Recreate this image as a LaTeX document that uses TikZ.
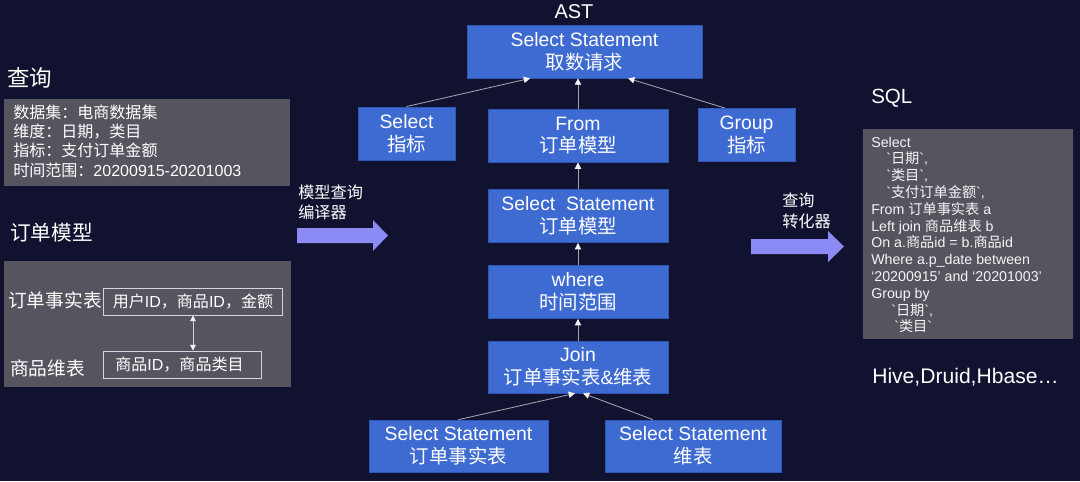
\documentclass[tikz,border=0pt]{standalone}
\usepackage{fontspec}
\setmainfont{Liberation Sans}[Ligatures=TeXOff]
\newfontfamily\lafont{Liberation Sans}[Ligatures=TeXOff]
\newfontfamily\zhfont{Noto Sans CJK SC}
\usetikzlibrary{arrows.meta}

% Chinese runs in Noto Sans CJK, the rest in Liberation Sans
\XeTeXinterchartokenstate=1
\newXeTeXintercharclass\zhclass
\newcount\zhc
\zhc="3000
\loop\ifnum\zhc<"3040 \XeTeXcharclass\zhc=\zhclass \advance\zhc by 1 \repeat
\zhc="4E00
\loop\ifnum\zhc<"A000 \XeTeXcharclass\zhc=\zhclass \advance\zhc by 1 \repeat
\zhc="FF00
\loop\ifnum\zhc<"FFF0 \XeTeXcharclass\zhc=\zhclass \advance\zhc by 1 \repeat
\XeTeXinterchartoks 0 \zhclass = {\zhfont}
\XeTeXinterchartoks 4095 \zhclass = {\zhfont}
\XeTeXinterchartoks \zhclass 0 = {\lafont}
\XeTeXinterchartoks \zhclass 4095 = {\lafont}

\definecolor{bg}{HTML}{10122F}
\definecolor{boxblue}{HTML}{3E6BD2}
\definecolor{boxedge}{HTML}{2F56B4}
\definecolor{panelgray}{HTML}{56555F}
\definecolor{cellline}{HTML}{D4D4DA}
\definecolor{linegray}{HTML}{A4A4B0}
\definecolor{tipwhite}{HTML}{F2F2F6}
\definecolor{arrowblue}{HTML}{8C8AF5}

\begin{document}
\begin{tikzpicture}[x=0.025cm, y=-0.025cm,
    blk/.style={fill=boxblue, draw=boxedge, line width=0.5pt, text=white, align=center,
      inner sep=0pt, minimum height=1.33cm, font=\fontsize{13.8}{16.2}\selectfont},
    panel/.style={fill=panelgray, inner sep=0pt},
    cell/.style={draw=cellline, line width=0.7pt, inner sep=0pt, minimum height=0.675cm,
      text=white, font=\fontsize{11.4}{13}\selectfont},
    lbl/.style={text=white, inner sep=0pt, anchor=west},
    conn/.style={draw=linegray, line width=0.6pt, -{Triangle[width=4.5pt,length=4.5pt,color=tipwhite]}},
    pair/.style={draw=cellline, line width=0.7pt,
      {Triangle[width=4pt,length=4pt,color=tipwhite]}-{Triangle[width=4pt,length=4pt,color=tipwhite]}}]
    % Fondo
    \fill[bg] (0,0) rectangle (1080,481);

    % Consulta
    \node[lbl, font=\fontsize{16}{18}\selectfont] (qtitle) at (7,78) {查询};
    \node[panel, minimum width=7.15cm, minimum height=2.175cm] (qbox) at (147,142.5) {};
    \node[lbl, align=left, font=\fontsize{11.4}{13.7}\selectfont] (qtext) at (13,141)
        {数据集：电商数据集\\维度：日期，类目\\指标：支付订单金额\\时间范围：20200915-20201003};

    % Modelo
    \node[lbl, font=\fontsize{14.7}{17}\selectfont] (mtitle) at (10,233) {订单模型};
    \node[panel, minimum width=7.175cm, minimum height=3.15cm] (mbox) at (147.5,324) {};
    \node[lbl, font=\fontsize{13.3}{15}\selectfont] (factlbl) at (8,300) {订单事实表};
    \node[cell, minimum width=4.45cm] (fcell) at (193,301.5) {用户ID，商品ID，金额};
    \node[lbl, font=\fontsize{13.3}{15}\selectfont] (dimlbl) at (10,368) {商品维表};
    \node[cell, minimum width=3.925cm] (dcell) at (182.5,364.5) {商品ID，商品类目\hspace*{0.15cm}};
    \draw[pair] (fcell.south) -- (fcell.south |- dcell.north);

    % Compilador
    \node[lbl, align=left, font=\fontsize{11.5}{14.2}\selectfont] (comp) at (298,202) {模型查询\\编译器};
    \fill[arrowblue] (297,228) -- (373,228) -- (373,220) -- (388,235.5) -- (373,251)
        -- (373,243) -- (297,243) -- cycle;

    % AST
    \node[lbl, anchor=center, font=\fontsize{14.2}{16}\selectfont] (ast) at (574,12) {AST};
    \node[blk, minimum width=5.875cm, minimum height=1.325cm] (top) at (584.5,51.5) {Select Statement\\取数请求};
    \node[blk, minimum width=2.425cm] (sel) at (406.5,133.5) {Select\\指标};
    \node[blk, minimum width=4.5cm] (from) at (578,135.5) {From\\订单模型};
    \node[blk, minimum width=2.425cm] (grp) at (746.5,135) {Group\\指标};
    \node[blk, minimum width=4.5cm] (ssord) at (578,216) {Select\ \ Statement\\订单模型};
    \node[blk, minimum width=4.5cm] (where) at (578,292) {where\\时间范围};
    \node[blk, minimum width=4.5cm, minimum height=1.3cm] (join) at (578,367) {Join\\订单事实表\&维表};
    \node[blk, minimum width=4.475cm, minimum height=1.3cm] (fact) at (458.5,446) {Select Statement\\订单事实表};
    \node[blk, minimum width=4.4cm, minimum height=1.3cm] (dim) at (693,446) {Select Statement\\维表};

    \draw[conn] (sel.north) -- ([xshift=-1.36cm]top.south);
    \draw[conn] (from.north) -- (from.north |- top.south);
    \draw[conn] ([xshift=-0.54cm]grp.north) -- ([xshift=1.09cm]top.south);
    \draw[conn] (ssord.north) -- (from.south);
    \draw[conn] (where.north) -- (ssord.south);
    \draw[conn] (join.north) -- (where.south);
    \draw[conn] (fact.north) -- ([xshift=-0.075cm]join.south);
    \draw[conn] ([xshift=-1cm]dim.north) -- ([xshift=0.125cm]join.south);

    % Conversor
    \node[lbl, align=left, font=\fontsize{11.5}{15}\selectfont] (conv) at (782,210.5) {查询\\转化器};
    \fill[arrowblue] (751,239) -- (828,239) -- (828,231) -- (844,246.5) -- (828,262)
        -- (828,254) -- (751,254) -- cycle;

    % SQL
    \node[lbl, font=\fontsize{14.6}{17}\selectfont] (sqltitle) at (871,98) {SQL};
    \node[panel, minimum width=5.25cm, minimum height=5.25cm] (sqlbox) at (968,234) {};
    \node[lbl, anchor=north west, align=left, text=white!92!gray, font=\fontsize{10.1}{11.95}\selectfont] (sqltext) at (871,136.5)
        {Select\\
         \hspace*{0.375cm}`日期`,\\
         \hspace*{0.375cm}`类目`,\\
         \hspace*{0.375cm}`支付订单金额`,\\
         From 订单事实表 a\\
         Left join 商品维表 b\\
         On a.商品id = b.商品id\\
         Where a.p\_date between\\
         ‘20200915’ and ‘20201003’\\
         Group by\\
         \hspace*{0.5cm}`日期`,\\
         \hspace*{0.575cm}`类目`};
    \node[lbl, font=\fontsize{15}{17}\selectfont] (engines) at (872,377) {Hive,Druid,Hbase…};
\end{tikzpicture}
\end{document}
